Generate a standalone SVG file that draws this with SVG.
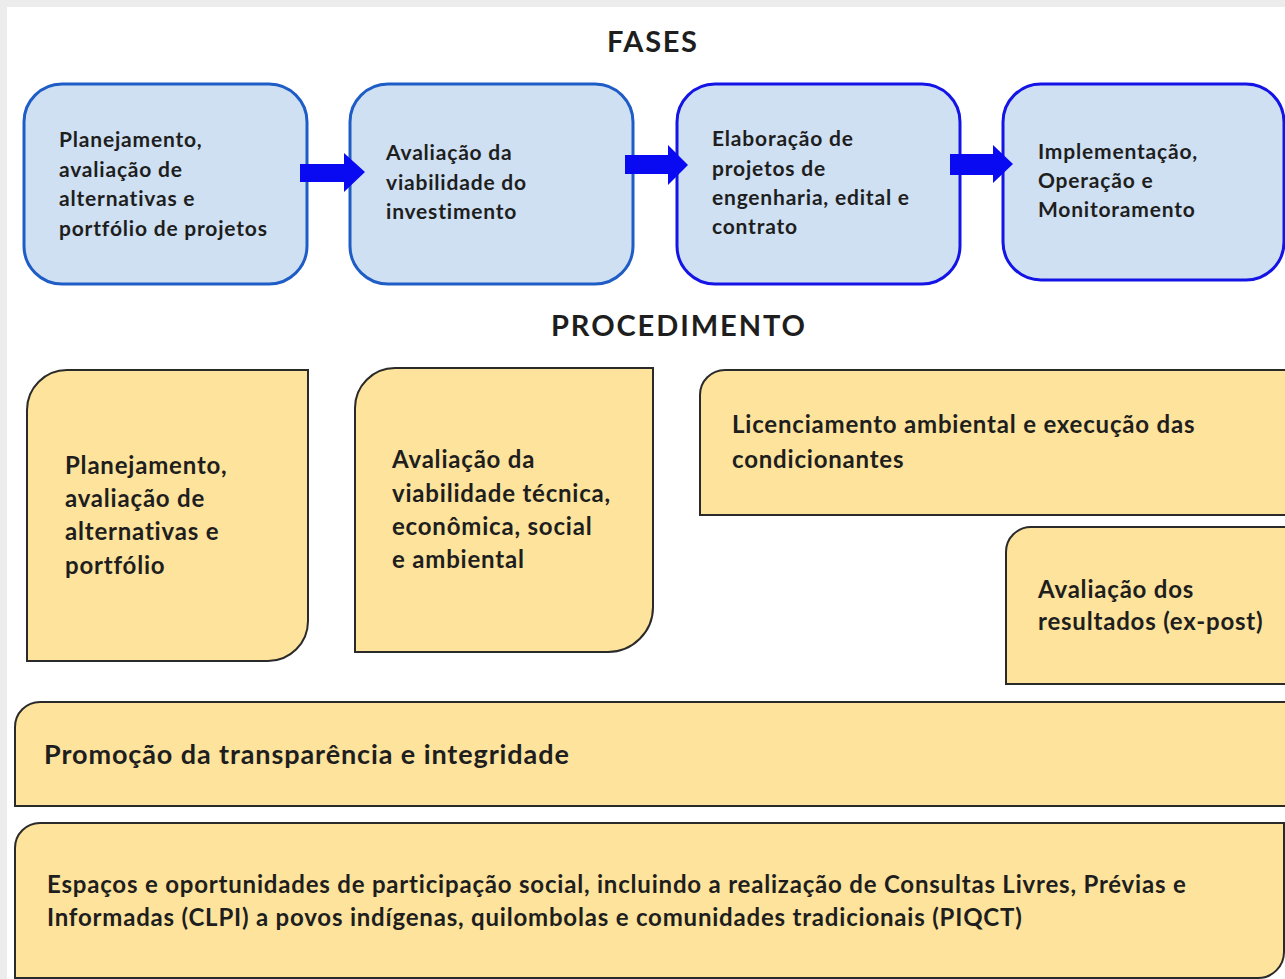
<svg xmlns="http://www.w3.org/2000/svg" width="1285" height="979" viewBox="0 0 1285 979">
<style>
.fase{fill:#cfe0f2;stroke-width:3}
.s1{stroke:#1e5cc6}
.s2{stroke:#1414e6}
.proc{fill:#fde39b;stroke:#2a2a2a;stroke-width:2}
.t{font-family:Lato,"Liberation Sans",sans-serif;font-weight:bold;fill:#1e1e1e}
.tb{font-size:21px;letter-spacing:0.8px}
.ty{font-size:24px;letter-spacing:0.8px}
.tl{font-size:27px;letter-spacing:0.9px}
.title{font-family:Lato,"Liberation Sans",sans-serif;font-weight:bold;font-size:29px;fill:#1e1e1e}
.arrow{fill:#0a0af2}
</style>
<rect x="0" y="0" width="1285" height="979" fill="#ececec"/>
<rect x="7" y="7" width="1278" height="972" fill="#ffffff"/>
<text class="title" x="607" y="52" textLength="90" lengthAdjust="spacing">FASES</text>
<text class="title" x="551" y="336" textLength="254" lengthAdjust="spacing">PROCEDIMENTO</text>
<g id="fase1"><rect class="fase s1" x="24" y="84" width="283" height="200" rx="38"/>
<text class="t tb"><tspan x="59" y="147">Planejamento,</tspan><tspan x="59" y="177">avaliação de</tspan><tspan x="59" y="206">alternativas e</tspan><tspan x="59" y="236">portfólio de projetos</tspan></text></g>
<g id="fase2"><rect class="fase s1" x="350" y="84" width="283" height="200" rx="38"/>
<text class="t tb"><tspan x="386" y="160">Avaliação da</tspan><tspan x="386" y="190">viabilidade do</tspan><tspan x="386" y="219">investimento</tspan></text></g>
<g id="fase3"><rect class="fase s2" x="677" y="84" width="283" height="200" rx="38"/>
<text class="t tb"><tspan x="712" y="146">Elaboração de</tspan><tspan x="712" y="176">projetos de</tspan><tspan x="712" y="205">engenharia, edital e</tspan><tspan x="712" y="234">contrato</tspan></text></g>
<g id="fase4"><rect class="fase s2" x="1003" y="84" width="281" height="196" rx="38"/>
<text class="t tb"><tspan x="1038" y="159">Implementação,</tspan><tspan x="1038" y="188">Operação e</tspan><tspan x="1038" y="217">Monitoramento</tspan></text></g>
<g id="connectors">
<polygon class="arrow" points="300,164 344,164 344,153 365,172 344,192 344,182 300,182"/>
<polygon class="arrow" points="625,155 668,155 668,145 688,165 668,185 668,174 625,174"/>
<polygon class="arrow" points="950,154 993,154 993,145 1013,164 993,183 993,175 950,175"/>
</g>
<g id="proc1"><path class="proc" d="M27,410 A40,40 0 0 1 67,370 L308,370 L308,621 A40,40 0 0 1 268,661 L27,661 Z"/>
<text class="t ty"><tspan x="65" y="474">Planejamento,</tspan><tspan x="65" y="507">avaliação de</tspan><tspan x="65" y="540">alternativas e</tspan><tspan x="65" y="574">portfólio</tspan></text></g>
<g id="proc2"><path class="proc" d="M355,408 A40,40 0 0 1 395,368 L653,368 L653,607 A45,45 0 0 1 608,652 L355,652 Z"/>
<text class="t ty"><tspan x="392" y="468">Avaliação da</tspan><tspan x="392" y="502">viabilidade técnica,</tspan><tspan x="392" y="535">econômica, social</tspan><tspan x="392" y="568">e ambiental</tspan></text></g>
<g id="proc3"><path class="proc" d="M700,395 A25,25 0 0 1 725,370 L1292,370 L1292,515 L700,515 Z"/>
<text class="t ty"><tspan x="732" y="433">Licenciamento ambiental e execução das</tspan><tspan x="732" y="468">condicionantes</tspan></text></g>
<g id="proc4"><path class="proc" d="M1006,552 A25,25 0 0 1 1031,527 L1292,527 L1292,684 L1006,684 Z"/>
<text class="t ty"><tspan x="1038" y="598">Avaliação dos</tspan><tspan x="1038" y="630">resultados (ex-post)</tspan></text></g>
<g id="proc5"><path class="proc" d="M15,727 A25,25 0 0 1 40,702 L1292,702 L1292,806 L15,806 Z"/>
<text class="t tl" x="44" y="764">Promoção da transparência e integridade</text></g>
<g id="proc6"><path class="proc" d="M15,848 A25,25 0 0 1 40,823 L1284,823 L1284,952 A26,26 0 0 1 1258,978 L15,978 Z"/>
<text class="t ty"><tspan x="47" y="893">Espaços e oportunidades de participação social, incluindo a realização de Consultas Livres, Prévias e</tspan><tspan x="47" y="926">Informadas (CLPI) a povos indígenas, quilombolas e comunidades tradicionais (PIQCT)</tspan></text></g>
</svg>
